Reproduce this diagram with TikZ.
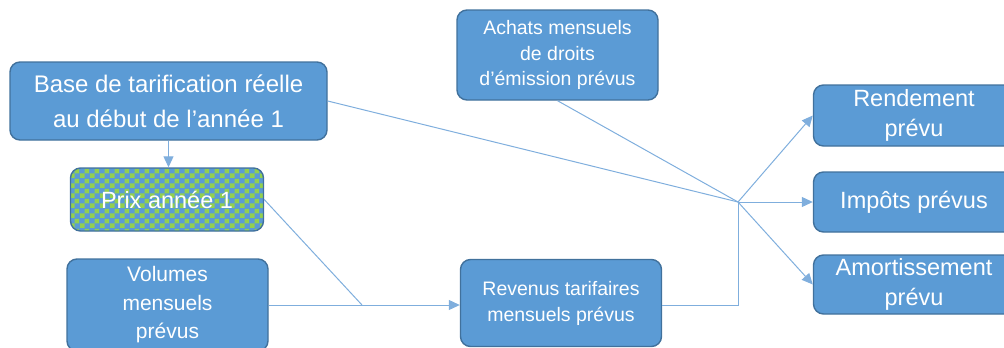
\documentclass[tikz,border=0pt]{standalone}
\usepackage{fontspec}
\setmainfont{Liberation Sans}
\usetikzlibrary{arrows.meta,patterns.meta}
\definecolor{boxblue}{HTML}{5B9BD5}
\definecolor{boxedge}{HTML}{41719C}
\definecolor{linkblue}{HTML}{7FAEDD}
\definecolor{chkgreen}{HTML}{92D050}
\tikzdeclarepattern{name=bigchecker, type=uncolored,
  bounding box={(0pt,0pt) and (10pt,10pt)}, tile size={(10pt,10pt)},
  code={\fill (0pt,0pt) rectangle (5pt,5pt); \fill (5pt,5pt) rectangle (10pt,10pt);}}
\tikzset{
  box/.style={draw=boxedge, line width=1.4pt, fill=boxblue, rounded corners=10pt,
    text=white, align=center, inner sep=0pt, minimum width=#1},
  box/.default=201pt,
  link/.style={draw=linkblue, line width=1pt},
  arr/.style={link, -{Triangle[length=11pt,width=10pt]}},
}
\begin{document}
\begin{tikzpicture}[x=1pt,y=-1pt]
\useasboundingbox (0,0) rectangle (1004,348);
% nodes
\node[box=317pt, minimum height=78pt, font=\fontsize{24}{35}\selectfont] (base) at (168.5,101)
  {Base de tarification réelle\\au début de l’année 1};
\node[box=193pt, minimum height=63pt, preaction={fill=boxblue}, pattern=bigchecker, pattern color=chkgreen,
  font=\fontsize{23.5}{26}\selectfont] (prix) at (167,199.5) {Prix année 1};
\node[box, minimum height=92pt, font=\fontsize{21}{28.5}\selectfont] (vol) at (167.5,305)
  {Volumes\\mensuels\\prévus};
\node[box, minimum height=90pt, font=\fontsize{19.5}{25.5}\selectfont] (achats) at (557.5,55)
  {Achats mensuels\\de droits\\d’émission prévus};
\node[box, minimum height=87pt, font=\fontsize{19.5}{26}\selectfont] (rev) at (561,303)
  {Revenus tarifaires\\mensuels prévus};
\node[box, minimum height=61pt, font=\fontsize{23.5}{30}\selectfont] (rend) at (914,115.5)
  {Rendement\\prévu};
\node[box, minimum height=60pt, font=\fontsize{23.5}{30}\selectfont] (imp) at (914,202)
  {Impôts prévus};
\node[box, minimum height=59pt, font=\fontsize{23.5}{30}\selectfont] (amort) at (914,284.5)
  {Amortissement\\prévu};
% junctions
\coordinate (hub) at (738,202);
\coordinate (meet) at (362,305);
% connectors
\draw[arr] (base.south) -- (base.south |- prix.north);
\draw[link] (base.east) -- (hub);
\draw[link] (achats.south) -- (hub);
\draw[link] (prix.east) -- (meet);
\draw[arr] (vol.east |- meet) -- (rev.west |- meet);
\draw[link] (rev.east |- meet) -- (hub |- meet) -- (hub);
\draw[arr] (hub) -- (rend.west);
\draw[arr] (hub) -- (imp.west);
\draw[arr] (hub) -- (amort.west);
\end{tikzpicture}
\end{document}
